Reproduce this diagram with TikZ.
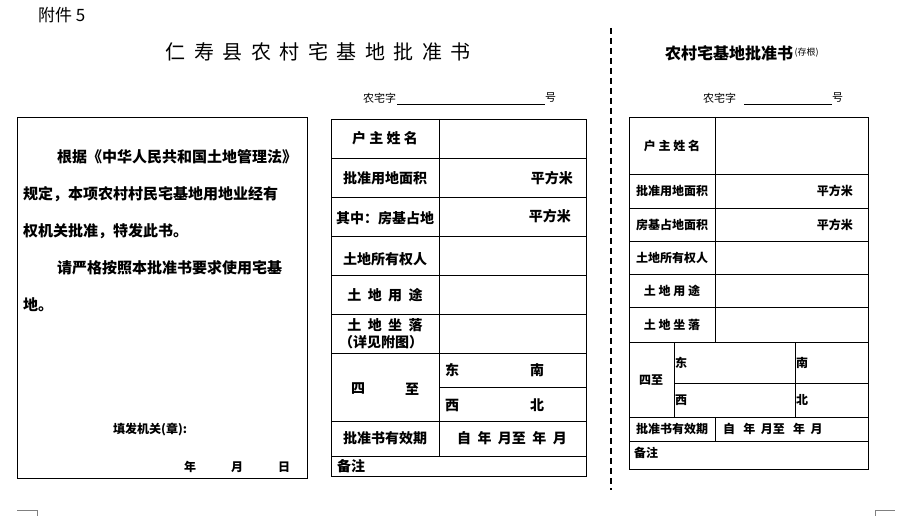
\documentclass[tikz,border=0pt]{standalone}
\usepackage{fontspec}
\setmainfont{Noto Sans CJK SC}
\usetikzlibrary{positioning}
\tikzset{
  Lbl/.style={font=\bfseries\fontsize{14}{14}\selectfont, inner sep=0pt},
  SmLbl/.style={font=\bfseries\fontsize{12}{12}\selectfont, inner sep=0pt},
  BodyTxt/.style={font=\bfseries\fontsize{15}{15}\selectfont, inner sep=0pt, anchor=west},
  Grid/.style={draw=black, line width=0.9pt}
}
\newcommand{\tsp}{\hspace{8.5pt}}
\begin{document}
\begin{tikzpicture}[x=1pt,y=-1pt]
  \useasboundingbox (0,0) rectangle (908,516);

  % headings
  \node (Annex) [font=\fontsize{17}{17}\selectfont, anchor=west, inner sep=0pt] at (38,15) {附件 5};
  \node (MainTitle) [font=\fontsize{20}{20}\selectfont, inner sep=0pt] at (318,52) {仁\tsp 寿\tsp 县\tsp 农\tsp 村\tsp 宅\tsp 基\tsp 地\tsp 批\tsp 准\tsp 书};
  \node (StubTitle) [font=\bfseries\fontsize{16}{16}\selectfont, anchor=west, inner sep=0pt] at (665,53) {农村宅基地批准书};
  \node (StubTag) [font=\fontsize{9}{9}\selectfont, right=1pt of StubTitle, inner sep=0pt] {(存根)};
  \node (NoMain) [font=\fontsize{11}{11}\selectfont, anchor=west, inner sep=0pt] at (363,98) {农宅字};
  \node (NoMainEnd) [font=\fontsize{11}{11}\selectfont, anchor=west, inner sep=0pt] at (545,98) {号};
  \draw (NoMain.south east) ++(1,1) coordinate (UlA) -- (NoMainEnd.south west |- UlA);
  \node (NoStub) [font=\fontsize{11}{11}\selectfont, anchor=west, inner sep=0pt] at (703,98) {农宅字};
  \node (NoStubEnd) [font=\fontsize{11}{11}\selectfont, anchor=west, inner sep=0pt] at (832,98) {号};
  \draw (NoStub.south east) ++(8,1) coordinate (UlB) -- (NoStubEnd.south west |- UlB);

  % certificate text box
  \draw [Grid] (17,117) rectangle (307,478);
  \node (Txt1) [BodyTxt] at (57,157) {根据《中华人民共和国土地管理法》};
  \node (Txt2) [BodyTxt] at (23,194) {规定，本项农村村民宅基地用地业经有};
  \node (Txt3) [BodyTxt] at (23,231) {权机关批准，特发此书。};
  \node (Txt4) [BodyTxt] at (57,268) {请严格按照本批准书要求使用宅基};
  \node (Txt5) [BodyTxt] at (23,305) {地。};
  \node (Issuer) [SmLbl, anchor=west] at (113,430) {填发机关(章):};
  \node (DateY) [SmLbl] at (190,467) {年};
  \node (DateM) [SmLbl] at (237,467) {月};
  \node (DateD) [SmLbl] at (284,467) {日};

  % main table
  \draw [Grid] (331,119) rectangle (586,476);
  \foreach \y in {158,197,236,275,314,353,421,456}
    \draw [Grid] (331,\y) -- (586,\y);
  \draw [Grid] (439,387) -- (586,387);
  \draw [Grid] (439,119) -- (439,456);
  \node (OwnerA) [Lbl] at (385,138) {户\ 主\ 姓\ 名};
  \node (AreaA) [Lbl] at (385,178) {批准用地面积};
  \node (AreaUnitA) [Lbl, anchor=east] at (573,178) {平方米};
  \begin{scope}
    \clip (331,197) rectangle (439,236);
    \node (HouseA) [Lbl, anchor=west] at (336,218) {其中：房基占地};
  \end{scope}
  \node (HouseUnitA) [Lbl, anchor=east] at (571,216) {平方米};
  \node (LandOwnA) [Lbl] at (385,259) {土地所有权人};
  \node (UseA) [Lbl] at (385,295) {土\ \ 地\ \ 用\ \ 途};
  \node (SiteA) [Lbl] at (385,325) {土\ \ 地\ \ 坐\ \ 落};
  \node (SiteNoteA) [Lbl] at (381,342) {（详见附图）};
  \node (FourA) [Lbl] at (358,389) {四};
  \node (FourB) [Lbl] at (412,389) {至};
  \node (EastA) [Lbl] at (452,370) {东};
  \node (SouthA) [Lbl] at (537,370) {南};
  \node (WestA) [Lbl] at (452,405) {西};
  \node (NorthA) [Lbl] at (537,405) {北};
  \node (ValidA) [Lbl] at (385,438) {批准书有效期};
  \node (ValidRngA) [Lbl] at (512,438) {自\ \ 年\ \ 月至\ \ 年\ \ 月};
  \node (NoteA) [Lbl, anchor=west] at (337,466) {备注};

  % cut line
  \draw [line width=1.4pt, dash pattern=on 6pt off 4pt] (611,28) -- (611,490);

  % stub table
  \draw [Grid] (629,117) rectangle (868,469);
  \foreach \y in {174,208,241,274,307,342,417,441}
    \draw [Grid] (629,\y) -- (868,\y);
  \draw [Grid] (674,383) -- (868,383);
  \draw [Grid] (715,117) -- (715,342);
  \draw [Grid] (715,417) -- (715,441);
  \draw [Grid] (674,342) -- (674,417);
  \draw [Grid] (795,342) -- (795,417);
  \node (OwnerB) [SmLbl] at (672,146) {户\ 主\ 姓\ 名};
  \node (AreaB) [SmLbl] at (672,191) {批准用地面积};
  \node (AreaUnitB) [SmLbl, anchor=east] at (853,191) {平方米};
  \node (HouseB) [SmLbl] at (672,225) {房基占地面积};
  \node (HouseUnitB) [SmLbl, anchor=east] at (853,225) {平方米};
  \node (LandOwnB) [SmLbl] at (672,258) {土地所有权人};
  \node (UseB) [SmLbl] at (672,291) {土\ 地\ 用\ 途};
  \node (SiteB) [SmLbl] at (672,325) {土\ 地\ 坐\ 落};
  \node (FourC) [SmLbl] at (651,380) {四至};
  \node (EastB) [SmLbl, anchor=west] at (675,363) {东};
  \node (SouthB) [SmLbl, anchor=west] at (796,363) {南};
  \node (WestB) [SmLbl, anchor=west] at (675,400) {西};
  \node (NorthB) [SmLbl, anchor=west] at (796,400) {北};
  \node (ValidB) [SmLbl] at (672,429) {批准书有效期};
  \node (ValidRngB) [SmLbl, anchor=west] at (723,429) {自\ \ \ 年\ \ 月至\ \ \ 年\ \ 月};
  \node (NoteB) [SmLbl, anchor=west] at (634,453) {备注};

  % page corner marks
  \draw [gray] (17,510) -- (37,510) -- (37,516);
  \draw [gray] (875,516) -- (875,510) -- (895,510);
\end{tikzpicture}
\end{document}
